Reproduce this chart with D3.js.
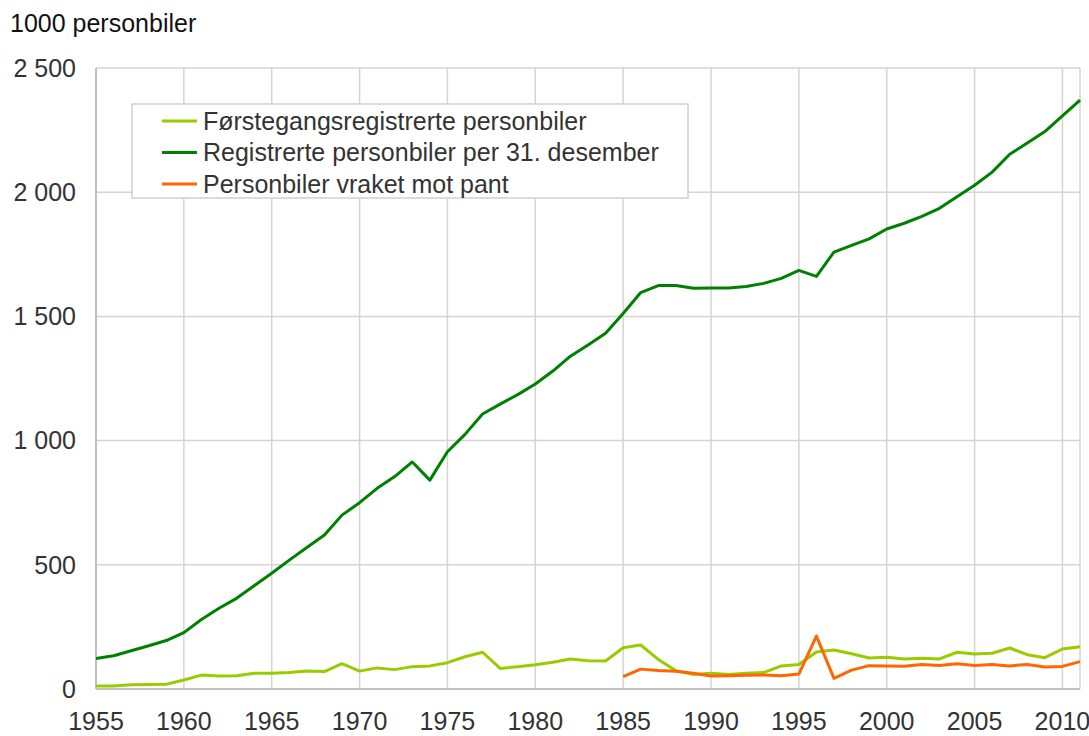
<!DOCTYPE html>
<html><head><meta charset="utf-8">
<script src="https://cdn.jsdelivr.net/npm/d3@7"></script>
<style>body{margin:0;background:#fff}svg{display:block;font-family:"Liberation Sans",Arial,sans-serif}</style>
</head><body><svg id="c" width="1089" height="736"></svg>
<script>
const years = d3.range(1955, 2012);
const forstegangs = [12,12,17,18,19,36,56,52,53,63,63,66,72,70,102,72,85,78,90,93,106,130,148,83,90,98,108,121,114,113,166,177,119,74,58,63,58,63,66,93,99,149,157,142,125,128,121,124,121,148,141,144,165,138,126,161,170];
const registrerte = [123,134,154,174,195,227,280,325,365,416,466,519,570,620,700,750,808,855,914,841,955,1025,1107,1147,1185,1228,1280,1340,1385,1432,1512,1596,1624,1624,1613,1614,1614,1620,1633,1653,1685,1661,1759,1786,1812,1852,1875,1903,1935,1982,2028,2081,2153,2198,2244,2307,2371];
const vraketYears = d3.range(1985, 2012);
const vraket = [50,80,74,71,63,52,53,55,56,53,60,213,43,76,94,93,92,99,95,102,95,99,93,99,89,91,110];
const seriesNames = ["Førstegangsregistrerte personbiler","Registrerte personbiler per 31. desember","Personbiler vraket mot pant"];
const yTicks = [0,500,1000,1500,2000,2500];
const xTicks = [1955,1960,1965,1970,1975,1980,1985,1990,1995,2000,2005,2010];
const yUnit = "1000 personbiler";

const colors = ["#99cc00","#008000","#ff6600"];
const svg = d3.select("#c");
const L=96,R=1080,T=68,B=689;
const x = d3.scaleLinear().domain([1955,2011]).range([L,R]);
const y = d3.scaleLinear().domain([0,2500]).range([B,T]);
const fmt = v => d3.format(",")(v).replace(/,/g," ");

// gridlines
svg.append("g").selectAll("line").data(yTicks).join("line")
  .attr("x1",L).attr("x2",R).attr("y1",d=>y(d)).attr("y2",d=>y(d))
  .attr("stroke","#d4d4d4").attr("stroke-width",1.5);
svg.append("g").selectAll("line").data(xTicks).join("line")
  .attr("x1",d=>x(d)).attr("x2",d=>x(d)).attr("y1",T).attr("y2",B)
  .attr("stroke","#d4d4d4").attr("stroke-width",1.5);
svg.append("line").attr("x1",R).attr("x2",R).attr("y1",T).attr("y2",B).attr("stroke","#d4d4d4").attr("stroke-width",1.5);
// axes lines
svg.append("line").attr("x1",L).attr("x2",L).attr("y1",T).attr("y2",B).attr("stroke","#c0c0c0").attr("stroke-width",2);
svg.append("line").attr("x1",L).attr("x2",R).attr("y1",B).attr("y2",B).attr("stroke","#c0c0c0").attr("stroke-width",2);

// tick labels
svg.append("g").selectAll("text").data(yTicks).join("text")
  .attr("x",76).attr("y",d=>y(d)).attr("dy","0.35em").attr("text-anchor","end")
  .attr("font-size",25).attr("fill","#333").text(fmt);
svg.append("g").selectAll("text").data(xTicks).join("text")
  .attr("x",d=>x(d)).attr("y",730).attr("text-anchor","middle")
  .attr("font-size",25).attr("fill","#333").text(d=>d);
svg.append("text").attr("x",10).attr("y",32).attr("font-size",25).attr("fill","#111").text(yUnit);

// lines
const line = d3.line().x(d=>x(d[0])).y(d=>y(d[1]));
const data = [d3.zip(years,forstegangs), d3.zip(years,registrerte), d3.zip(vraketYears,vraket)];
[0,1,2].forEach(i=>{
  svg.append("path").datum(data[i]).attr("d",line).attr("fill","none")
    .attr("stroke",colors[i]).attr("stroke-width",3).attr("stroke-linejoin","round");
});

// legend
const lg = svg.append("g");
lg.append("rect").attr("x",132).attr("y",104).attr("width",556).attr("height",94)
  .attr("fill","#fff").attr("stroke","#d0d0d0").attr("stroke-width",1.5);
seriesNames.forEach((n,i)=>{
  const yy = 121 + i*31.5;
  lg.append("line").attr("x1",162).attr("x2",197).attr("y1",yy).attr("y2",yy)
    .attr("stroke",colors[i]).attr("stroke-width",3);
  lg.append("text").attr("x",203).attr("y",yy).attr("dy","0.35em")
    .attr("font-size",25).attr("fill","#333").text(n);
});
</script></body></html>
